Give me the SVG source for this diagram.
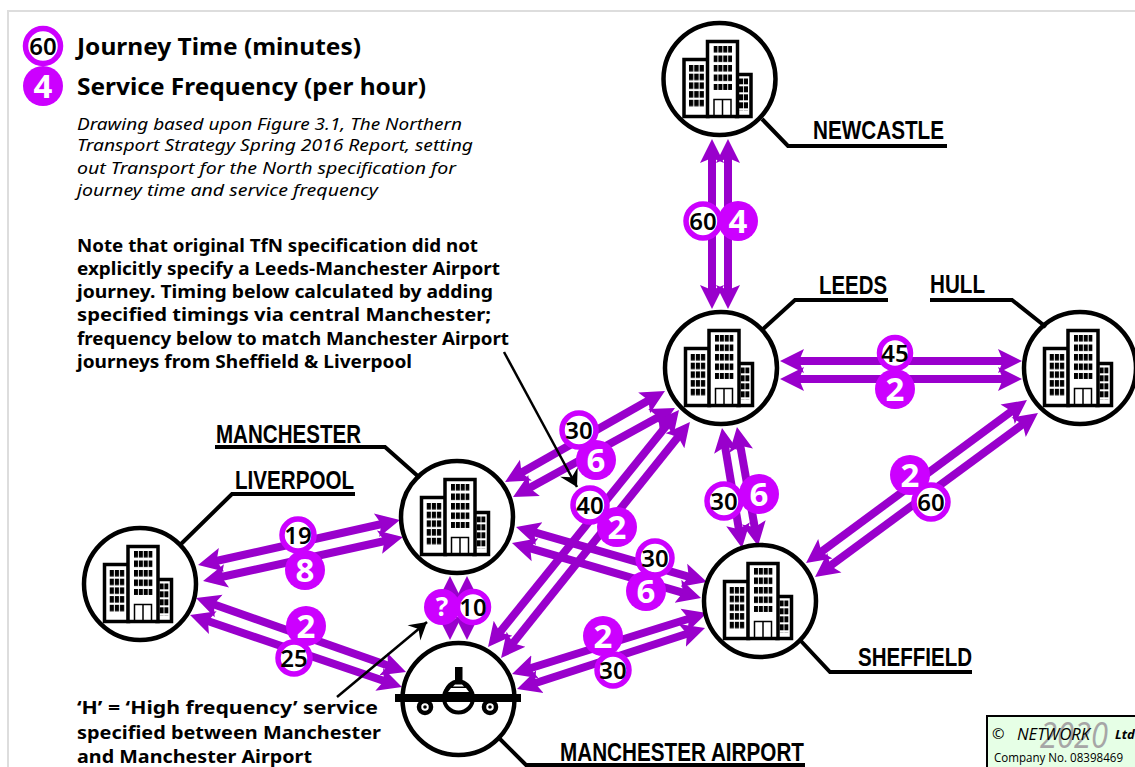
<svg xmlns="http://www.w3.org/2000/svg" width="1135" height="767" viewBox="0 0 1135 767">
<style>
.c{stroke:#9900cc;stroke-width:8;fill:none;marker-start:url(#ah);marker-end:url(#ah)}
.ring{fill:#fff;stroke:#000;stroke-width:4.5}
.b{fill:#fff;stroke:#000;stroke-width:3.5}
.lead{fill:none;stroke:#000;stroke-width:4}
.lab{font:bold 25px "Liberation Sans",sans-serif;fill:#000}
.jt{fill:#fff;stroke:#cc00ff;stroke-width:5.500}
.fq{fill:#cc00ff}
.jn{font:600 24px "Noto Sans",sans-serif;fill:#000;text-anchor:middle}
.fn{font:bold 33px "Noto Sans",sans-serif;fill:#fff;text-anchor:middle}
.lg{font:bold 23px "Noto Sans",sans-serif;fill:#000}
.it{font:italic 17px "Noto Sans",sans-serif;fill:#000}
.nt{font:bold 18px "Noto Sans",sans-serif;fill:#000}
.ptr{stroke:#000;stroke-width:2.500;fill:none;marker-end:url(#bh)}
</style>
<defs>
<marker id="ah" markerUnits="userSpaceOnUse" markerWidth="30" markerHeight="30" refX="10" refY="15" orient="auto-start-reverse"><path d="M24,15L0,3L5,15L0,27Z" fill="#9900cc"/></marker>
<marker id="bh" markerUnits="userSpaceOnUse" markerWidth="24" markerHeight="24" refX="18" refY="12" orient="auto"><path d="M18,12L1,2L7,12L1,22Z" fill="#000"/></marker>
<pattern id="w1" patternUnits="userSpaceOnUse" x="-30.500" y="-14" width="5.300" height="8.700"><rect width="4.300" height="6.500"/></pattern>
<pattern id="w2" patternUnits="userSpaceOnUse" x="-6" y="-33" width="4.900" height="9.500"><rect width="4" height="6.500"/></pattern>
<pattern id="w3" patternUnits="userSpaceOnUse" x="19.500" y="-0.700" width="5" height="8"><rect width="4.200" height="6"/></pattern>
<g id="city">
<circle class="ring" r="56"/>
<rect class="b" x="-35.500" y="-19.500" width="24" height="57"/>
<rect class="b" x="17" y="-4.500" width="14.500" height="42"/>
<rect class="b" x="-12" y="-37.500" width="30" height="75"/>
<rect fill="url(#w1)" x="-30.500" y="-14" width="15" height="43"/>
<rect fill="url(#w2)" x="-6" y="-33" width="18.500" height="44"/>
<rect fill="url(#w3)" x="19.500" y="-0.700" width="9" height="32"/>
<path d="M-5.500,37V20.500H11.500V37M3,20.500V37" fill="none" stroke="#000" stroke-width="1.500"/>
</g>
</defs>
<rect x="8" y="11" width="1200" height="800" fill="#fff" stroke="#ddd" stroke-width="2"/>
<g id="connectors">
<line class="c" x1="712" y1="153" x2="712" y2="295"/>
<line class="c" x1="728" y1="153" x2="728" y2="295"/>
<line class="c" x1="794" y1="361" x2="1008" y2="361"/>
<line class="c" x1="794" y1="379" x2="1008" y2="379"/>
<line class="c" x1="724.300" y1="441.800" x2="739.700" y2="534.200"/>
<line class="c" x1="739.400" y1="440.800" x2="755.600" y2="532.200"/>
<line class="c" x1="1015.700" y1="408.300" x2="817.300" y2="554.700"/>
<line class="c" x1="1026.700" y1="421.300" x2="826.300" y2="568.700"/>
<line class="c" x1="652.800" y1="397.900" x2="517.200" y2="475.100"/>
<line class="c" x1="662.700" y1="414.700" x2="525.300" y2="490.300"/>
<line class="c" x1="670.200" y1="420.900" x2="496.800" y2="636.100"/>
<line class="c" x1="681.200" y1="432.900" x2="509.800" y2="647.100"/>
<line class="c" x1="529.500" y1="530.900" x2="693.500" y2="578.100"/>
<line class="c" x1="525.400" y1="546.900" x2="687.600" y2="594.100"/>
<line class="c" x1="386.300" y1="523" x2="211.700" y2="562"/>
<line class="c" x1="389.300" y1="540" x2="216.700" y2="578"/>
<line class="c" x1="209.200" y1="602.700" x2="392.800" y2="667.300"/>
<line class="c" x1="203.300" y1="619.500" x2="388.700" y2="682.500"/>
<line class="c" x1="525.400" y1="669.800" x2="693.600" y2="617.200"/>
<line class="c" x1="530.300" y1="684.700" x2="691.700" y2="632.300"/>
<line class="c" x1="450" y1="590" x2="450" y2="626"/>
<line class="c" x1="467" y1="590" x2="467" y2="626"/>
</g>
<g id="legend">
<circle class="jt" cx="43" cy="46" r="17.500"/><text class="jn" x="43" y="54.500">60</text>
<circle class="fq" cx="43" cy="86" r="20"/><text class="fn" x="43" y="98">4</text>
<text class="lg" x="77" y="55" textLength="284" lengthAdjust="spacingAndGlyphs">Journey Time (minutes)</text>
<text class="lg" x="77" y="95" textLength="349" lengthAdjust="spacingAndGlyphs">Service Frequency (per hour)</text>
</g>
<g id="notes">
<text class="it" x="77" y="130" textLength="385" lengthAdjust="spacingAndGlyphs">Drawing based upon Figure 3.1, The Northern</text>
<text class="it" x="77" y="151" textLength="396" lengthAdjust="spacingAndGlyphs">Transport Strategy Spring 2016 Report, setting</text>
<text class="it" x="77" y="174" textLength="379" lengthAdjust="spacingAndGlyphs">out Transport for the North specification for</text>
<text class="it" x="77" y="196" textLength="301" lengthAdjust="spacingAndGlyphs">journey time and service frequency</text>
<text class="nt" x="77" y="252" textLength="401" lengthAdjust="spacingAndGlyphs">Note that original TfN specification did not</text>
<text class="nt" x="77" y="275" textLength="423" lengthAdjust="spacingAndGlyphs">explicitly specify a Leeds-Manchester Airport</text>
<text class="nt" x="77" y="298" textLength="416" lengthAdjust="spacingAndGlyphs">journey.  Timing below calculated by adding</text>
<text class="nt" x="77" y="321" textLength="414" lengthAdjust="spacingAndGlyphs">specified timings via central Manchester;</text>
<text class="nt" x="77" y="345" textLength="432" lengthAdjust="spacingAndGlyphs">frequency below to match Manchester Airport</text>
<text class="nt" x="77" y="368" textLength="335" lengthAdjust="spacingAndGlyphs">journeys from Sheffield &amp; Liverpool</text>
<text class="nt" x="77" y="714" textLength="301" lengthAdjust="spacingAndGlyphs">‘H’ = ‘High frequency’ service</text>
<text class="nt" x="77" y="739" textLength="304" lengthAdjust="spacingAndGlyphs">specified between Manchester</text>
<text class="nt" x="77" y="763" textLength="235" lengthAdjust="spacingAndGlyphs">and Manchester Airport</text>
<line class="ptr" x1="504" y1="352" x2="577" y2="487"/>
<line class="ptr" x1="337" y1="697" x2="427" y2="622"/>
</g>
<g id="newcastle"><use href="#city" x="719.500" y="79"/><path class="lead" d="M762,119L788,146H947"/><text class="lab" x="813" y="139" textLength="131" lengthAdjust="spacingAndGlyphs">NEWCASTLE</text></g>
<g id="leeds"><use href="#city" x="721" y="368"/><path class="lead" d="M762,330L795,300H888"/><text class="lab" x="819" y="294" textLength="68" lengthAdjust="spacingAndGlyphs">LEEDS</text></g>
<g id="hull"><use href="#city" x="1080" y="368"/><path class="lead" d="M930,300H1012L1046,327"/><text class="lab" x="930" y="293" textLength="55" lengthAdjust="spacingAndGlyphs">HULL</text></g>
<g id="manchester"><use href="#city" x="457" y="517"/><path class="lead" d="M215,447H385L420,478"/><text class="lab" x="216" y="443" textLength="145" lengthAdjust="spacingAndGlyphs">MANCHESTER</text></g>
<g id="liverpool"><use href="#city" x="140" y="584"/><path class="lead" d="M180,545L232,494H355"/><text class="lab" x="235" y="489" textLength="119" lengthAdjust="spacingAndGlyphs">LIVERPOOL</text></g>
<g id="sheffield"><use href="#city" x="760" y="601"/><path class="lead" d="M800,640L830,672H972"/><text class="lab" x="858" y="666" textLength="114" lengthAdjust="spacingAndGlyphs">SHEFFIELD</text></g>
<g id="manchester-airport">
<circle class="ring" cx="458.500" cy="699" r="56"/>
<rect x="455" y="667" width="7.500" height="17"/>
<circle cx="458.500" cy="698" r="14.500" fill="#fff" stroke="#000" stroke-width="4"/>
<path d="M444,694A14.500,14.500 0 0 1 473,694Z" fill="#000"/>
<path d="M448,692L451,688H466L469,692ZM453,686.500H464L462,684.500H455Z" fill="#fff"/>
<rect x="395" y="694" width="126" height="8"/>
<circle cx="425" cy="707" r="6" fill="#fff" stroke="#000" stroke-width="4.500"/><circle cx="425" cy="707" r="1.800"/>
<circle cx="490" cy="707" r="6" fill="#fff" stroke="#000" stroke-width="4.500"/><circle cx="490" cy="707" r="1.800"/>
<path class="lead" d="M499,738L526,765H805"/>
<text class="lab" x="560" y="761" textLength="244" lengthAdjust="spacingAndGlyphs">MANCHESTER AIRPORT</text>
</g>
<g id="badges">
<circle class="jt" cx="703" cy="221" r="17"/><text class="jn" x="703" y="229.500">60</text>
<circle class="fq" cx="738" cy="221" r="20"/><text class="fn" x="738" y="233">4</text>
<circle class="jt" cx="895" cy="353" r="15.500"/><text class="jn" x="895" y="361.500">45</text>
<circle class="fq" cx="895" cy="389" r="20"/><text class="fn" x="895" y="401">2</text>
<circle class="jt" cx="579" cy="430" r="17"/><text class="jn" x="579" y="438.500">30</text>
<circle class="fq" cx="596" cy="460" r="20"/><text class="fn" x="596" y="472">6</text>
<circle class="jt" cx="590" cy="505" r="17"/><text class="jn" x="590" y="513.500">40</text>
<circle class="fq" cx="617" cy="527" r="20"/><text class="fn" x="617" y="539">2</text>
<circle class="jt" cx="655" cy="558" r="17"/><text class="jn" x="655" y="566.500">30</text>
<circle class="fq" cx="646" cy="591" r="20"/><text class="fn" x="646" y="603">6</text>
<circle class="jt" cx="298" cy="535" r="16"/><text class="jn" x="298" y="543.500">19</text>
<circle class="fq" cx="305" cy="570" r="20"/><text class="fn" x="305" y="582">8</text>
<circle class="fq" cx="306" cy="626" r="20"/><text class="fn" x="306" y="638">2</text>
<circle class="jt" cx="294" cy="658" r="16"/><text class="jn" x="294" y="666.500">25</text>
<circle class="fq" cx="442" cy="607" r="18"/><text class="fn" x="442" y="616" style="font-size:26px">?</text>
<circle class="jt" cx="473" cy="607" r="15.500"/><text class="jn" x="473" y="615.500">10</text>
<circle class="fq" cx="603" cy="636" r="20"/><text class="fn" x="603" y="648">2</text>
<circle class="jt" cx="613" cy="670" r="16"/><text class="jn" x="613" y="678.500">30</text>
<circle class="jt" cx="724" cy="501" r="17"/><text class="jn" x="724" y="509.500">30</text>
<circle class="fq" cx="759" cy="494" r="20"/><text class="fn" x="759" y="506">6</text>
<circle class="fq" cx="910" cy="475" r="20"/><text class="fn" x="910" y="487">2</text>
<circle class="jt" cx="931" cy="502" r="17"/><text class="jn" x="931" y="510.500">60</text>
</g>
<g id="credit">
<rect x="987" y="716" width="160" height="60" fill="#e6ffe6" stroke="#000" stroke-width="2"/>
<text x="1040" y="748" style="font:italic 36px 'Open Sans',sans-serif;fill:#a6a6a6" textLength="68" lengthAdjust="spacingAndGlyphs">2020</text>
<text x="992" y="739" style="font:15px 'Open Sans',sans-serif;fill:#000">©</text>
<text x="1017" y="740" style="font:italic 16px 'Open Sans',sans-serif;fill:#000" textLength="73" lengthAdjust="spacingAndGlyphs">NETWORK</text>
<text x="1115" y="739" style="font:italic bold 13px 'Open Sans',sans-serif;fill:#000">Ltd</text>
<text x="994" y="762" style="font:13.500px 'Open Sans',sans-serif;fill:#000" textLength="129" lengthAdjust="spacingAndGlyphs">Company No. 08398469</text>
</g>
</svg>
